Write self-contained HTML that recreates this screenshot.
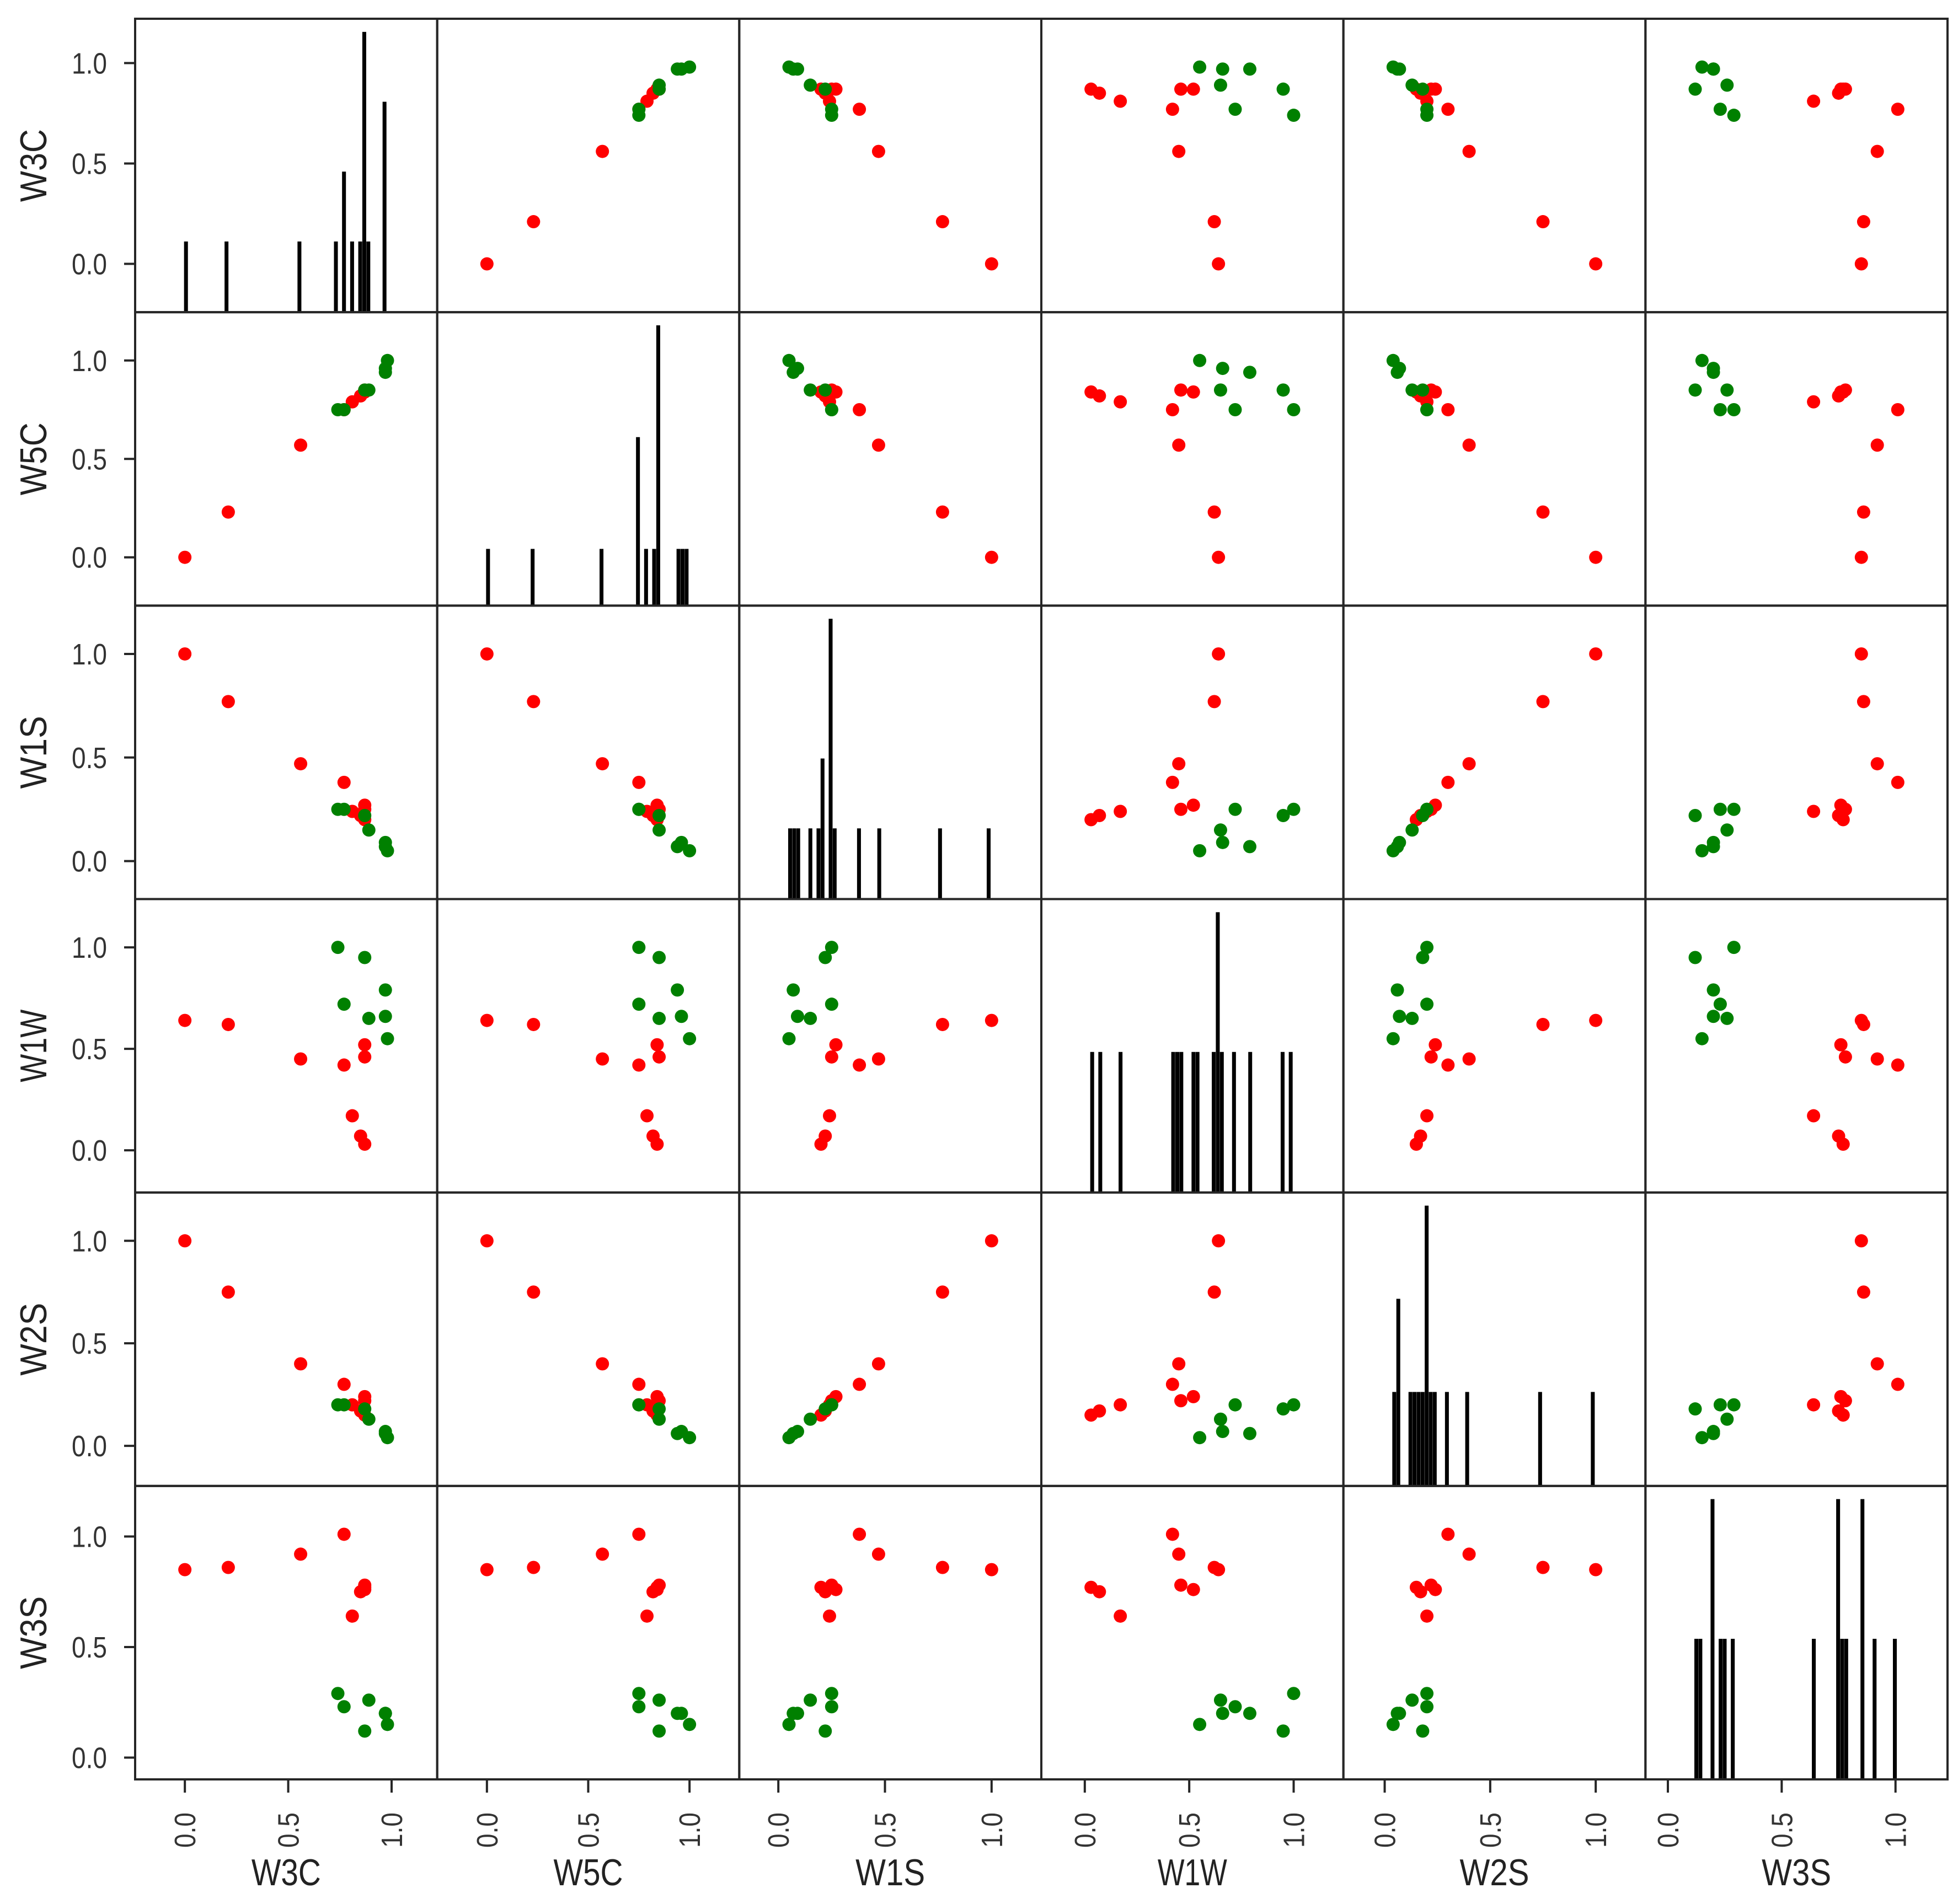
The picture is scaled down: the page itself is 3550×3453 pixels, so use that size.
<!DOCTYPE html>
<html><head><meta charset="utf-8"><style>
html,body{margin:0;padding:0;background:#fff;}
svg{display:block;font-family:"Liberation Sans","DejaVu Sans",sans-serif;}
</style></head><body>
<svg id="chart" width="3550" height="3453" viewBox="0 0 3550 3453" xmlns="http://www.w3.org/2000/svg"></svg>
<script>
const varNames = ['W3C','W5C','W1S','W1W','W2S','W3S'];
const groupColors = ['r','r','r','r','r','r','r','r','r','g','g','g','g','g','g','g'];
const W3C = [0.00,0.21,0.56,0.77,0.81,0.85,0.87,0.87,0.87,0.74,0.77,0.87,0.89,0.97,0.97,0.98];
const W5C = [0.00,0.23,0.57,0.75,0.79,0.82,0.84,0.84,0.85,0.75,0.75,0.85,0.85,0.94,0.96,1.00];
const W1S = [1.00,0.77,0.47,0.38,0.24,0.22,0.20,0.27,0.25,0.25,0.25,0.22,0.15,0.07,0.09,0.05];
const W1W = [0.64,0.62,0.45,0.42,0.17,0.07,0.03,0.52,0.46,1.00,0.72,0.95,0.65,0.79,0.66,0.55];
const W2S = [1.00,0.75,0.40,0.30,0.20,0.17,0.15,0.24,0.22,0.20,0.20,0.18,0.13,0.06,0.07,0.04];
const W3S = [0.85,0.86,0.92,1.01,0.64,0.75,0.77,0.76,0.78,0.29,0.23,0.12,0.26,0.20,0.20,0.15];
const tickValues = [0.0,0.5,1.0];
const tickLabels = ['0.0','0.5','1.0'];
const histBins = 50;

const series = [W3C,W5C,W1S,W1W,W2S,W3S];
const NS='http://www.w3.org/2000/svg';
const svg=document.getElementById('chart');
const L=245,T=34,R=3531,B=3227,n=6;
const cw=(R-L)/n, ch=(B-T)/n;
const F=0.2455;
function ext(a){const mn=Math.min(...a),mx=Math.max(...a),p=(mx-mn)*F;return [mn-p,mx+p];}
const exts=series.map(ext);
function xScale(j,v){const e=exts[j];return L+j*cw+(v-e[0])/(e[1]-e[0])*cw;}
function yScale(i,v){const e=exts[i];return T+(i+1)*ch-(v-e[0])/(e[1]-e[0])*ch;}
function mk(tag,attrs){const el=document.createElementNS(NS,tag);for(const k in attrs)el.setAttribute(k,attrs[k]);return el;}

for(let i=0;i<n;i++){
  for(let j=0;j<n;j++){
    const g=mk('g',{});
    
    
    svg.appendChild(g);
    const x0=L+j*cw,y0=T+i*ch;
    if(i===j){
      const a=series[i];const mn=Math.min(...a),mx=Math.max(...a);const bw=(mx-mn)/histBins;
      const counts=new Array(histBins).fill(0);
      a.forEach(v=>{let k=Math.floor((v-mn)/bw+1e-9);if(k>=histBins)k=histBins-1;counts[k]++;});
      const cmax=Math.max(...counts)*1.05;
      counts.forEach((c,k)=>{
        if(!c)return;
        const xa=xScale(j,mn+k*bw),xb=xScale(j,mn+(k+1)*bw);
        const h=c/cmax*ch;
        const r=mk('rect',{x:xa,y:y0+ch-h,width:Math.max((xb-xa)*0.55,1),height:h,fill:'#000',stroke:'#000','stroke-width':3});
        
        
        g.appendChild(r);
      });
    } else {
      const xs=series[j],ys=series[i];
      xs.forEach((v,k)=>{
        const c=mk('circle',{cx:xScale(j,v),cy:yScale(i,ys[k]),r:12,fill:groupColors[k]==='r'?'#ff0000':'#008000'});
        
        
        g.appendChild(c);
      });
    }
    const fr=mk('rect',{x:x0,y:y0,width:cw,height:ch,fill:'none',stroke:'#262626','stroke-width':4});
    
    
    g.appendChild(fr);
  }
}
for(let i=0;i<n;i++){
  tickValues.forEach((v,t)=>{
    const y=yScale(i,v);
    const tk=mk('line',{x1:L-20,x2:L,y1:y,y2:y,stroke:'#262626','stroke-width':4});
    
    
    svg.appendChild(tk);
    const tx=mk('text',{x:194,y:y+19,'text-anchor':'end','font-size':54,fill:'#333',textLength:64,lengthAdjust:'spacingAndGlyphs'});
    tx.textContent=tickLabels[t];
    
    
    svg.appendChild(tx);
  });
  const cy=T+(i+0.5)*ch;
  const lab=mk('text',{x:0,y:0,transform:`translate(84,${cy}) rotate(-90)`,'text-anchor':'middle','font-size':68,fill:'#222',textLength:132,lengthAdjust:'spacingAndGlyphs'});
  lab.textContent=varNames[i];
  
  
  svg.appendChild(lab);
}
for(let j=0;j<n;j++){
  tickValues.forEach((v,t)=>{
    const x=xScale(j,v);
    const tk=mk('line',{x1:x,x2:x,y1:B,y2:B+24,stroke:'#262626','stroke-width':4});
    
    
    svg.appendChild(tk);
    const tx=mk('text',{x:0,y:0,transform:`translate(${x+19},3287) rotate(-90)`,'text-anchor':'end','font-size':54,fill:'#333',textLength:64,lengthAdjust:'spacingAndGlyphs'});
    tx.textContent=tickLabels[t];
    
    
    svg.appendChild(tx);
  });
  const lab=mk('text',{x:L+(j+0.5)*cw,y:3419,'text-anchor':'middle','font-size':68,fill:'#222',textLength:126,lengthAdjust:'spacingAndGlyphs'});
  lab.textContent=varNames[j];
  
  
  svg.appendChild(lab);
}
</script>
</body></html>
